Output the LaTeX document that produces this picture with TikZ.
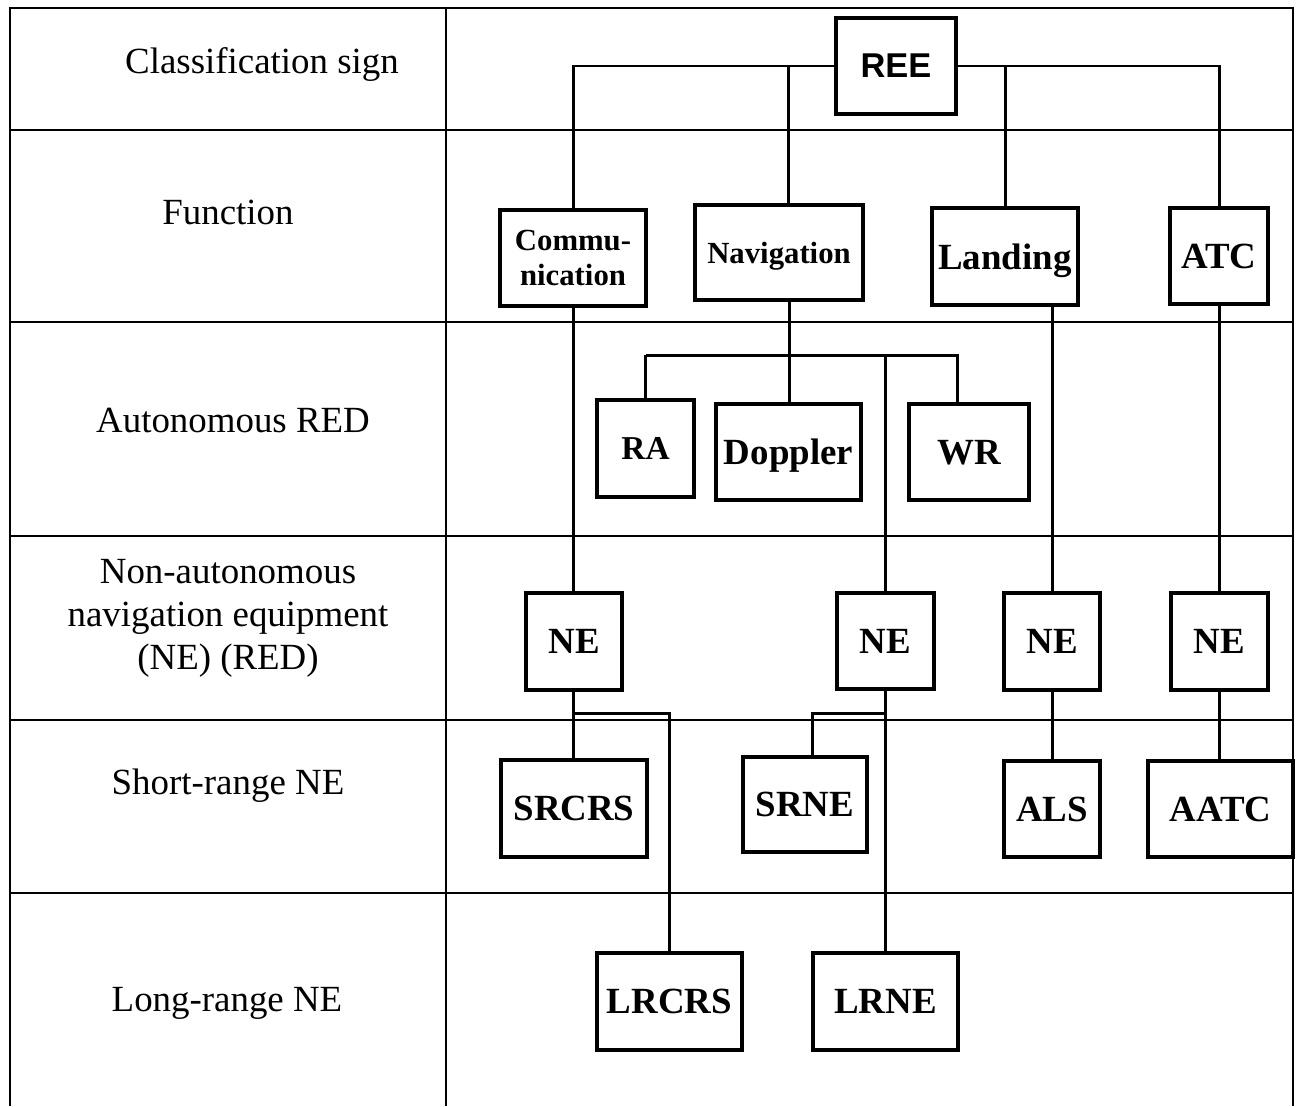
\documentclass[tikz,border=0pt]{standalone}
\usepackage{fontspec}
\setmainfont{Liberation Serif}
\newfontfamily\reefont{Liberation Sans}
\usetikzlibrary{positioning}

\tikzstyle{grid} = [line width=1.1pt]
\tikzstyle{rowtext} = [align=center, font=\fontsize{21}{24.5}\selectfont]
\tikzstyle{unitbox} = [rectangle, draw=black, line width=2.2pt, inner sep=0pt, text depth=0pt, align=center, font=\fontsize{21}{24}\selectfont\bfseries]
\tikzstyle{smallbox} = [unitbox, font=\fontsize{17.5}{20}\selectfont\bfseries]
\tikzstyle{link} = [line width=1.7pt]

\begin{document}
\begin{tikzpicture}[x=0.02cm, y=-0.02cm]
\useasboundingbox (0,0) rectangle (1297,1106);

% table
\draw[grid] (10,1106) -- (10,8) -- (1293,8) -- (1293,1106);
\draw[grid] (446,8) -- (446,1106);
\foreach \y in {130,322,536,720,893}
  \draw[grid] (10,\y) -- (1293,\y);

% row titles
\node (rsign) [rowtext] at (262,64) {Classification sign};
\node (rfunc) [rowtext] at (228,212) {Function};
\node (rauto) [rowtext] at (233,420) {Autonomous RED};
\node (rnon) [rowtext] at (228,618) {Non-autonomous\\navigation equipment\\(NE) (RED)};
\node (rshort) [rowtext] at (228,786) {Short-range NE};
\node (rlong) [rowtext] at (227,1003) {Long-range NE};

% boxes
\node (ree) [unitbox, minimum width=2.4cm, minimum height=1.92cm, font=\fontsize{19.6}{22}\selectfont\reefont\bfseries] at (896,66) {REE};

\node (comm) [smallbox, minimum width=2.92cm, minimum height=1.92cm] at (573,258) {Commu-\\nication};
\node (nav) [smallbox, minimum width=3.36cm, minimum height=1.9cm] at (779,252.5) {Navigation};
\node (land) [unitbox, minimum width=2.92cm, minimum height=1.94cm] at (1005,256.5) {Landing};
\node (atc) [unitbox, minimum width=1.96cm, minimum height=1.92cm] at (1219,256) {ATC};

\node (ra) [unitbox, minimum width=1.94cm, minimum height=1.94cm, font=\fontsize{19}{22}\selectfont\bfseries] at (645.5,448.5) {RA};
\node (dop) [unitbox, minimum width=2.9cm, minimum height=1.92cm] at (788.5,452) {Doppler};
\node (wr) [unitbox, minimum width=2.4cm, minimum height=1.92cm] at (969,452) {WR};

\node (ne1) [unitbox, minimum width=1.92cm, minimum height=1.94cm] at (574,641.5) {NE};
\node (ne2) [unitbox, minimum width=1.94cm, minimum height=1.92cm] at (885.5,641) {NE};
\node (ne3) [unitbox, minimum width=1.92cm, minimum height=1.94cm] at (1052,641.5) {NE};
\node (ne4) [unitbox, minimum width=1.94cm, minimum height=1.94cm] at (1219.5,641.5) {NE};

\node (srcrs) [unitbox, minimum width=2.92cm, minimum height=1.94cm] at (574,808.5) {SRCRS};
\node (srne) [unitbox, minimum width=2.48cm, minimum height=1.9cm] at (805,804.5) {SRNE};
\node (als) [unitbox, minimum width=1.92cm, minimum height=1.92cm] at (1052,809) {ALS};
\node (aatc) [unitbox, minimum width=2.9cm, minimum height=1.92cm] at (1220.5,809) {AATC};

\node (lrcrs) [unitbox, minimum width=2.9cm, minimum height=1.94cm] at (669.5,1001.5) {LRCRS};
\node (lrne) [unitbox, minimum width=2.9cm, minimum height=1.94cm] at (885.5,1001.5) {LRNE};

% bus points
\coordinate (navbus) at (789,355);
\coordinate (nebus) at (885,355);
\coordinate (wrbus) at (957,355);
\coordinate (crsfork) at (573,713);
\coordinate (nefork) at (885,713);

% links from REE
\draw[link] (ree.west) -| (comm.north);
\draw[link] (ree.east) -| (atc.north);
\draw[link] (ree.west -| dop.north) -- (nav.north -| dop.north);
\draw[link] (ree.east -| land.north) -- (land.north);

% navigation branch
\draw[link] (nav.south -| navbus) -- (navbus);
\draw[link] (navbus -| ra.north) -- (wrbus) -- (wr.north -| wrbus);
\draw[link] (navbus -| ra.north) -- (ra.north);
\draw[link] (navbus) -- (dop.north -| navbus);
\draw[link] (nebus) -- (ne2.north -| nebus);
\draw[link] (ne2.south -| nefork) -- (lrne.north -| nefork);
\draw[link] (nefork) -- (812,713) -- (srne.north -| 812,0);

% communication branch
\draw[link] (comm.south -| crsfork) -- (ne1.north -| crsfork);
\draw[link] (ne1.south -| crsfork) -- (srcrs.north -| crsfork);
\draw[link] (crsfork) -- (669,713) -- (lrcrs.north -| 669,0);

% landing and ATC branches
\draw[link] (land.south -| ne3.north) -- (ne3.north);
\draw[link] (ne3.south) -- (als.north);
\draw[link] (atc.south -| ne4.north) -- (ne4.north);
\draw[link] (ne4.south) -- (aatc.north -| ne4.south);

\end{tikzpicture}
\end{document}
